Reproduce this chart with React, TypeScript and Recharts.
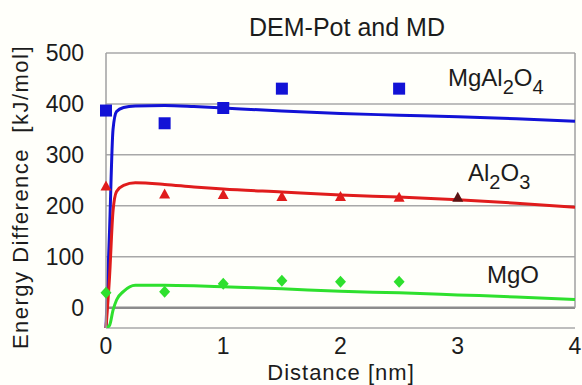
import React from 'react';
import {
  ComposedChart,
  Line,
  Scatter,
  XAxis,
  YAxis,
  CartesianGrid,
  ReferenceLine,
} from 'recharts';

// fitted DEM-Pot curves
const curveX = [0, 0.03, 0.06, 0.09, 0.15, 0.25, 0.5, 0.75, 1, 1.5, 2, 2.5, 3, 3.5, 4];
const mgal2o4Curve = [-40, 150, 350, 385, 393, 396, 397, 395, 392, 386, 381, 378, 375, 371, 366];
const al2o3Curve = [-40, 60, 190, 228, 240, 245, 242, 237, 233, 227, 221, 217, 212, 205, 197];
const mgoCurve = [-40, -35, -5, 15, 32, 44, 44, 43, 41, 37, 32, 29, 25, 21, 16];

// MD points
const mgal2o4MdX = [0, 0.5, 1, 1.5, 2.5];
const mgal2o4Md = [387, 362, 392, 430, 430];
const al2o3MdX = [0, 0.5, 1, 1.5, 2, 2.5, 3];
const al2o3Md = [238, 222, 221, 217, 217, 216, 216];
const mgoMdX = [0, 0.5, 1, 1.5, 2, 2.5];
const mgoMd = [29, 31, 47, 53, 51, 51];

const xTicks = [0, 1, 2, 3, 4];
const yTicks = [0, 100, 200, 300, 400, 500];

const toPoints = (xs: number[], ys: number[]) => xs.map((x, i) => ({ x, y: ys[i] }));

const BLUE = '#1212d6';
const RED = '#e01c1c';
const DARK_RED = '#5a1414';
const GREEN = '#2ee02e';
const FONT = '"Liberation Sans", Arial, sans-serif';
const INK = '#1c1c1c';

const Square = (p: any) => <rect x={p.cx - 6} y={p.cy - 6} width={12} height={12} fill={BLUE} />;
const Triangle = (p: any) => (
  <path
    d={`M${p.cx},${p.cy - 6} L${p.cx + 5.5},${p.cy + 4} L${p.cx - 5.5},${p.cy + 4} Z`}
    fill={p.payload && p.payload.x === 3 ? DARK_RED : RED}
  />
);
const Diamond = (p: any) => (
  <path d={`M${p.cx},${p.cy - 6} L${p.cx + 5.5},${p.cy} L${p.cx},${p.cy + 6} L${p.cx - 5.5},${p.cy} Z`} fill={GREEN} />
);

function Formula({ parts, left, baseline }: { parts: [string, boolean][]; left: number; baseline: number }) {
  return (
    <div
      style={{
        position: 'absolute',
        left,
        top: baseline - 22,
        fontFamily: FONT,
        fontSize: 24,
        color: INK,
        lineHeight: '24px',
        whiteSpace: 'nowrap',
      }}
    >
      {parts.map(([t, sub], i) =>
        sub ? (
          <span key={i} style={{ fontSize: 20, position: 'relative', top: 8 }}>{t}</span>
        ) : (
          <span key={i}>{t}</span>
        )
      )}
    </div>
  );
}

export default function App() {
  return (
    <div style={{ position: 'absolute', left: 0, top: 0, width: 582, height: 385, background: '#fffffa', overflow: 'hidden' }}>
      <ComposedChart width={582} height={385} margin={{ top: 53, right: 7, left: 0, bottom: 27 }}>
        <CartesianGrid vertical={false} stroke="#a8a8a8" strokeWidth={1.5} />
        <XAxis
          type="number"
          dataKey="x"
          domain={[0, 4]}
          ticks={xTicks}
          axisLine={false}
          tickLine={false}
          tickMargin={4}
          height={30}
          tick={{ fill: INK, fontSize: 23, fontFamily: FONT }}
          interval={0}
        />
        <YAxis
          type="number"
          dataKey="y"
          domain={[-40, 500]}
          ticks={yTicks}
          width={106}
          axisLine={{ stroke: '#a0a0a0', strokeWidth: 1.5 }}
          tickLine={false}
          tickMargin={16}
          tick={{ fill: INK, fontSize: 23, fontFamily: FONT }}
          allowDataOverflow
        />
        <ReferenceLine y={0} stroke="#8c8c8c" strokeWidth={2.5} />
        <ReferenceLine segment={[{ x: 4, y: 0 }, { x: 4, y: 500 }]} stroke="#a0a0a0" strokeWidth={1.5} />

        <Scatter data={toPoints(mgal2o4MdX, mgal2o4Md)} shape={Square} fill={BLUE} isAnimationActive={false} />
        <Scatter data={toPoints(al2o3MdX, al2o3Md)} shape={Triangle} fill={RED} isAnimationActive={false} />
        <Scatter data={toPoints(mgoMdX, mgoMd)} shape={Diamond} fill={GREEN} isAnimationActive={false} />

        <Line data={toPoints(curveX, mgal2o4Curve)} dataKey="y" type="monotone" stroke={BLUE} strokeWidth={3} dot={false} isAnimationActive={false} />
        <Line data={toPoints(curveX, al2o3Curve)} dataKey="y" type="monotone" stroke={RED} strokeWidth={3} dot={false} isAnimationActive={false} />
        <Line data={toPoints(curveX, mgoCurve)} dataKey="y" type="monotone" stroke={GREEN} strokeWidth={3} dot={false} isAnimationActive={false} />
      </ComposedChart>

      <div style={{ position: 'absolute', left: 347, top: 27, transform: 'translate(-50%, -50%)', fontFamily: FONT, fontSize: 25, color: INK, whiteSpace: 'nowrap' }}>
        DEM-Pot and MD
      </div>
      <div
        style={{
          position: 'absolute',
          left: 21,
          top: 197,
          transform: 'translate(-50%, -50%) rotate(-90deg)',
          fontFamily: FONT,
          fontSize: 22,
          letterSpacing: 1.5,
          color: INK,
          whiteSpace: 'pre',
        }}
      >
        {'Energy Difference  [kJ/mol]'}
      </div>
      <div style={{ position: 'absolute', left: 341, top: 373, transform: 'translate(-50%, -50%)', fontFamily: FONT, fontSize: 22, letterSpacing: 1, color: INK, whiteSpace: 'nowrap' }}>
        Distance [nm]
      </div>

      <Formula left={448} baseline={88} parts={[['MgAl', false], ['2', true], ['O', false], ['4', true]]} />
      <Formula left={468} baseline={183} parts={[['Al', false], ['2', true], ['O', false], ['3', true]]} />
      <Formula left={487} baseline={285} parts={[['MgO', false]]} />
    </div>
  );
}
